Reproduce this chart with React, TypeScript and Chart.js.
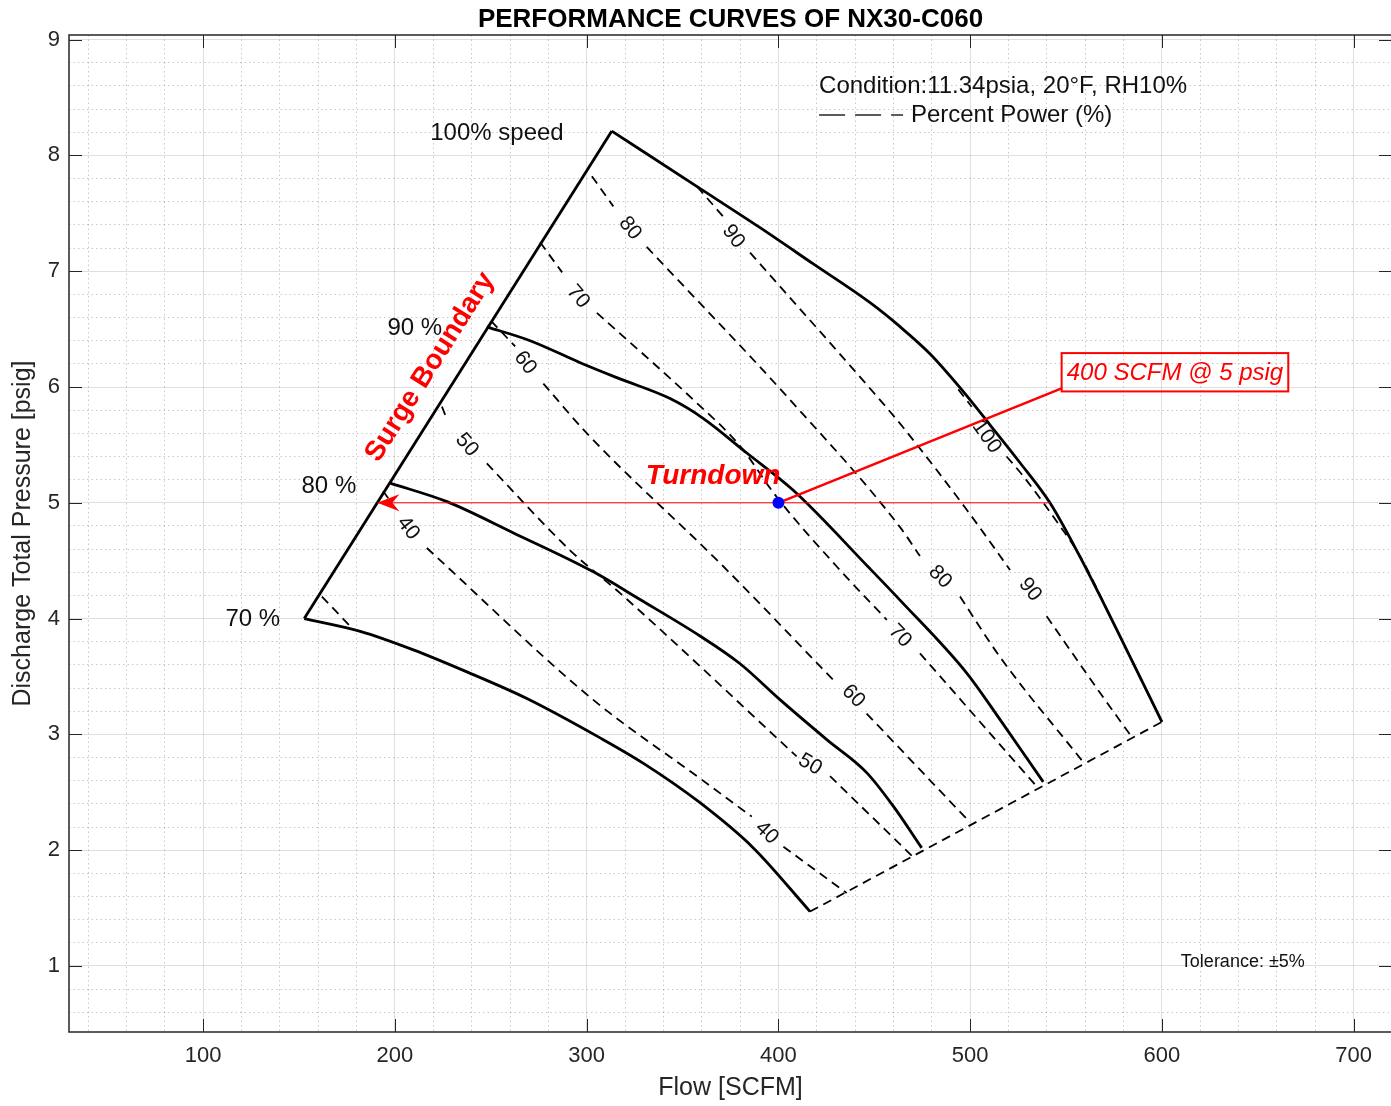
import React, { useEffect, useRef } from "react";
import { Chart, registerables } from "chart.js";

Chart.register(...registerables);

const FONT = '"Liberation Sans", Arial, Helvetica, sans-serif';
const AXIS_COLOR = "#262626";
const TEXT_COLOR = "#111111";
const RED = "#ff0000";

// ---- axes ----
const titleText = "PERFORMANCE CURVES OF NX30-C060";
const xTitle = "Flow [SCFM]";
const yTitle = "Discharge Total Pressure [psig]";
const flowLimits = [30, 720];
const pressureLimits = [0.43, 9.04];
const flowTicks = [100, 200, 300, 400, 500, 600, 700];
const pressureTicks = [1, 2, 3, 4, 5, 6, 7, 8, 9];
const flowMinorStep = 20;
const pressureMinorStep = 0.2;

// ---- speed curves [flow, pressure] ----
const surgeLine = [[152.7, 4.0], [313.1, 8.21]];
const speed100 = [[313.1, 8.21], [357.6, 7.73], [390.4, 7.376], [418.0, 7.065], [447.8, 6.728], [463.4, 6.521], [479.0, 6.287], [494.7, 5.994], [510.3, 5.674], [526.0, 5.346], [541.6, 5.0], [557.3, 4.533], [576.5, 3.903], [600.0, 3.108]];
const speed90 = [[247.9, 6.52], [270.5, 6.4], [296.6, 6.21], [317.4, 6.07], [343.5, 5.9], [360.7, 5.73], [383.5, 5.43], [407.6, 5.11], [447.8, 4.43], [463.4, 4.16], [498.2, 3.53], [515.5, 3.13], [538.1, 2.59]];
const speed80 = [[197.5, 5.17], [227.1, 5.01], [261.8, 4.74], [303.5, 4.404], [327.8, 4.165], [359.1, 3.85], [380.0, 3.61], [400.8, 3.3], [425.2, 2.955], [446.0, 2.67], [459.9, 2.38], [474.7, 2.02]];
const speed70 = [[152.7, 4.0], [181.9, 3.89], [209.6, 3.73], [237.5, 3.54], [268.8, 3.31], [307.0, 2.97], [329.6, 2.75], [359.1, 2.41], [386.9, 2.02], [416.5, 1.47]];
const chokeLine = [[416.5, 1.47], [600.0, 3.108]];

// ---- percent power lines (segments split where labels sit) ----
const power30 = [[[161.9, 4.19], [177.5, 3.92]]];
const power40 = [
  [[193.9, 5.1], [196.5, 5.04]],
  [[216.6, 4.61], [303.3, 3.3], [359.1, 2.62], [386.1, 2.29]],
  [[402.6, 2.03], [435.6, 1.63]],
];
const power40Labels = [[206.9, 4.78], [393.9, 2.15]];
const power50 = [
  [[224.5, 5.83], [226.2, 5.76]],
  [[247.9, 5.34], [291.3, 4.59], [317.4, 4.22], [409.5, 2.81]],
  [[426.9, 2.64], [470.3, 1.94]],
];
const power50Labels = [[237.5, 5.5], [416.5, 2.74]];
const power60 = [
  [[250.2, 6.57], [262.7, 6.35]],
  [[277.4, 6.03], [300.1, 5.6], [371.3, 4.45], [428.6, 3.47]],
  [[446.0, 3.18], [499.9, 2.24]],
];
const power60Labels = [[267.9, 6.21], [439.1, 3.33]];
const power70 = [
  [[275.7, 7.25], [287.2, 6.99]],
  [[305.3, 6.64], [355.6, 5.89], [380.0, 5.49], [399.1, 5.05], [430.4, 4.45], [456.5, 3.99]],
  [[473.8, 3.7], [534.7, 2.55]],
];
const power70Labels = [[295.5, 6.78], [463.4, 3.85]];
const power80 = [
  [[302.7, 7.82], [313.9, 7.56]],
  [[331.3, 7.21], [406.0, 5.89], [463.4, 4.79], [473.8, 4.54]],
  [[494.7, 4.19], [515.5, 3.67], [559.0, 2.76]],
];
const power80Labels = [[322.6, 7.37], [484.3, 4.36]];
const power90 = [
  [[357.6, 7.73], [371.3, 7.47]],
  [[385.2, 7.16], [451.3, 5.92], [465.1, 5.65], [498.2, 4.94], [520.8, 4.42]],
  [[539.9, 4.02], [567.7, 3.36], [583.3, 3.0]],
];
const power90Labels = [[376.5, 7.3], [531.2, 4.25]];
const power100 = [
  [[493.8, 5.98], [500.8, 5.83]],
  [[519.0, 5.4], [527.7, 5.23], [546.8, 4.8], [557.3, 4.54], [576.5, 3.9], [600.0, 3.108]],
];
const power100Labels = [[508.6, 5.57]];

const powerLines = [
  { text: "40", segments: power40, labels: power40Labels },
  { text: "50", segments: power50, labels: power50Labels },
  { text: "60", segments: power60, labels: power60Labels },
  { text: "70", segments: power70, labels: power70Labels },
  { text: "80", segments: power80, labels: power80Labels },
  { text: "90", segments: power90, labels: power90Labels },
  { text: "100", segments: power100, labels: power100Labels },
];

// ---- annotations ----
const operatingPoint = [[400, 5]];
const turndownLine = [[190.8, 5], [541.6, 5]];
const calloutLine = [[400, 5], [548.0, 5.99]];
const calloutBox = [[547.7, 6.293], [665.9, 5.962]];
const calloutText = "400 SCFM @ 5 psig";
const speedLabels = [
  { text: "100% speed", x: 218.4, y: 8.19, align: "left" },
  { text: "90 %", x: 224.6, y: 6.51, align: "right" },
  { text: "80 %", x: 179.8, y: 5.145, align: "right" },
  { text: "70 %", x: 140.1, y: 3.99, align: "right" },
];
const conditionText = { text: "Condition:11.34psia, 20°F, RH10%", x: 421.2, y: 8.6 };
const legendEntry = { text: "Percent Power (%)", x0: 421.2, x1: 465.0, xt: 469.1, y: 8.35 };
const toleranceText = { text: "Tolerance: ±5%", x: 642.2, y: 1.035 };
const surgeText = { text: "Surge Boundary", x: 218.35, y: 6.172 };
const turndownText = { text: "Turndown", x: 365.9, y: 5.225 };

const toXY = (pts: number[][]) => pts.map(([x, y]) => ({ x, y }));

function lineDs(pts: number[][], color: string, width: number, dash: number[] = [], smooth = false) {
  return {
    data: toXY(pts),
    showLine: true,
    borderColor: color,
    backgroundColor: color,
    borderWidth: width,
    borderDash: dash,
    pointRadius: 0,
    pointHoverRadius: 0,
    fill: false,
    tension: smooth ? 0.4 : 0,
    cubicInterpolationMode: smooth ? "monotone" : "default",
    borderJoinStyle: "round",
    borderCapStyle: "butt",
  };
}

const DASH = [9, 6];

const overlayPlugin = {
  id: "overlay",
  afterDatasetsDraw(chart: any) {
    const { ctx, scales } = chart;
    const X = (v: number) => scales.x.getPixelForValue(v);
    const Y = (v: number) => scales.y.getPixelForValue(v);
    ctx.save();

    // power labels
    ctx.font = `21px ${FONT}`;
    ctx.fillStyle = TEXT_COLOR;
    ctx.textAlign = "center";
    ctx.textBaseline = "middle";
    powerLines.forEach(({ text, segments, labels }) => {
      labels.forEach(([lx, ly], i) => {
        const segA = segments[i];
        const a = segA[segA.length - 1];
        const b = segments[i + 1] ? segments[i + 1][0] : a;
        const ang = Math.atan2(Y(b[1]) - Y(a[1]), X(b[0]) - X(a[0]));
        ctx.save();
        ctx.translate(X(lx), Y(ly));
        ctx.rotate(ang);
        ctx.fillText(text, 0, 0);
        ctx.restore();
      });
    });

    // speed labels
    ctx.font = `24px ${FONT}`;
    speedLabels.forEach((l) => {
      ctx.textAlign = l.align;
      ctx.fillText(l.text, X(l.x), Y(l.y));
    });

    // condition + legend
    ctx.textAlign = "left";
    ctx.fillText(conditionText.text, X(conditionText.x), Y(conditionText.y));
    ctx.fillText(legendEntry.text, X(legendEntry.xt), Y(legendEntry.y));
    ctx.save();
    ctx.strokeStyle = AXIS_COLOR;
    ctx.lineWidth = 1.5;
    ctx.setLineDash([26, 10]);
    ctx.beginPath();
    ctx.moveTo(X(legendEntry.x0), Y(legendEntry.y));
    ctx.lineTo(X(legendEntry.x1), Y(legendEntry.y));
    ctx.stroke();
    ctx.restore();

    // tolerance
    ctx.font = `18px ${FONT}`;
    ctx.textAlign = "center";
    ctx.fillText(toleranceText.text, X(toleranceText.x), Y(toleranceText.y));

    // surge boundary
    const sa = Math.atan2(Y(surgeLine[1][1]) - Y(surgeLine[0][1]), X(surgeLine[1][0]) - X(surgeLine[0][0]));
    ctx.fillStyle = RED;
    ctx.font = `bold 28px ${FONT}`;
    ctx.save();
    ctx.translate(X(surgeText.x), Y(surgeText.y));
    ctx.rotate(sa);
    ctx.fillText(surgeText.text, 0, 0);
    ctx.restore();

    // turndown
    ctx.font = `italic bold 28px ${FONT}`;
    ctx.fillText(turndownText.text, X(turndownText.x), Y(turndownText.y));

    // arrow head at turndown end
    const tx = X(turndownLine[0][0]);
    const ty = Y(turndownLine[0][1]);
    ctx.beginPath();
    ctx.moveTo(tx, ty);
    ctx.lineTo(tx + 22, ty - 8.5);
    ctx.lineTo(tx + 15, ty);
    ctx.lineTo(tx + 22, ty + 8.5);
    ctx.closePath();
    ctx.fill();

    // callout box
    const bx0 = X(calloutBox[0][0]);
    const by0 = Y(calloutBox[0][1]);
    const bx1 = X(calloutBox[1][0]);
    const by1 = Y(calloutBox[1][1]);
    ctx.strokeStyle = RED;
    ctx.lineWidth = 2;
    ctx.strokeRect(bx0, by0, bx1 - bx0, by1 - by0);
    ctx.font = `italic 24px ${FONT}`;
    ctx.textAlign = "center";
    ctx.fillText(calloutText, (bx0 + bx1) / 2, (by0 + by1) / 2 + 1);

    ctx.restore();
  },
  afterDraw(chart: any) {
    const { ctx, chartArea, scales } = chart;
    const { left, right, top, bottom } = chartArea;
    ctx.save();
    ctx.strokeStyle = AXIS_COLOR;
    ctx.lineWidth = 1;
    const tl = 13;
    ctx.beginPath();
    flowTicks.forEach((v) => {
      const p = Math.round(scales.x.getPixelForValue(v)) + 0.5;
      ctx.moveTo(p, bottom);
      ctx.lineTo(p, bottom - tl);
      ctx.moveTo(p, top);
      ctx.lineTo(p, top + tl);
    });
    pressureTicks.forEach((v) => {
      const p = Math.round(scales.y.getPixelForValue(v)) + 0.5;
      ctx.moveTo(left, p);
      ctx.lineTo(left + tl, p);
      ctx.moveTo(right, p);
      ctx.lineTo(right - tl, p);
    });
    ctx.stroke();
    ctx.lineWidth = 1.5;
    ctx.strokeRect(left, top, right - left, bottom - top);

    ctx.fillStyle = "#000";
    ctx.font = `bold 26px ${FONT}`;
    ctx.textAlign = "center";
    ctx.textBaseline = "alphabetic";
    ctx.fillText(titleText, (left + right) / 2, 27);
    ctx.restore();
  },
};

export default function App() {
  const ref = useRef<HTMLCanvasElement | null>(null);

  useEffect(() => {
    if (!ref.current) return;
    const datasets: any[] = [];
    datasets.push({
      data: toXY(operatingPoint),
      showLine: false,
      pointRadius: 6,
      pointHoverRadius: 6,
      pointBackgroundColor: "#0000ff",
      pointBorderColor: "#0000ff",
      borderWidth: 0,
    });
    datasets.push(lineDs(calloutLine, RED, 2.5));
    datasets.push(lineDs(turndownLine, RED, 1));
    datasets.push(lineDs(surgeLine, "#000", 2.8));
    [speed100, speed90, speed80, speed70].forEach((c) => datasets.push(lineDs(c, "#000", 2.8, [], true)));
    datasets.push(lineDs(chokeLine, "#000", 1.8, DASH));
    power30.forEach((s) => datasets.push(lineDs(s, "#000", 1.8, DASH)));
    powerLines.forEach((pl) => pl.segments.forEach((s) => datasets.push(lineDs(s, "#000", 1.8, DASH, s.length > 2))));

    const setMajor = (vals: number[]) => (scale: any) => {
      scale.ticks = vals.map((v) => ({ value: v }));
    };
    const zeroPad = (scale: any) => {
      scale.paddingTop = 0;
      scale.paddingBottom = 0;
      scale.paddingLeft = 0;
      scale.paddingRight = 0;
    };

    const chart = new Chart(ref.current, {
      type: "scatter",
      data: { datasets },
      options: {
        responsive: false,
        animation: false,
        devicePixelRatio: 1,
        events: [],
        layout: { padding: { top: 35, right: 8, bottom: 0, left: 0 } },
        plugins: { legend: { display: false }, tooltip: { enabled: false }, title: { display: false } },
        scales: {
          x: {
            type: "linear",
            position: "bottom",
            min: flowLimits[0],
            max: flowLimits[1],
            afterBuildTicks: setMajor(flowTicks),
            afterFit: (s: any) => {
              s.height = 74;
              zeroPad(s);
            },
            grid: { color: "rgba(38,38,38,0.15)", lineWidth: 1, drawTicks: false },
            border: { display: false },
            ticks: { color: AXIS_COLOR, font: { family: FONT, size: 22 }, padding: 11, maxRotation: 0, autoSkip: false },
            title: { display: true, text: xTitle, color: AXIS_COLOR, font: { family: FONT, size: 25 }, padding: { top: 0, bottom: 3 } },
          },
          y: {
            type: "linear",
            position: "left",
            min: pressureLimits[0],
            max: pressureLimits[1],
            afterBuildTicks: setMajor(pressureTicks),
            afterFit: (s: any) => {
              s.width = 69;
              zeroPad(s);
            },
            grid: { color: "rgba(38,38,38,0.15)", lineWidth: 1, drawTicks: false },
            border: { display: false },
            ticks: { color: AXIS_COLOR, font: { family: FONT, size: 22 }, padding: 9, autoSkip: false },
            title: { display: true, text: yTitle, color: AXIS_COLOR, font: { family: FONT, size: 25 }, padding: { top: 8, bottom: 0 } },
          },
          xMinor: {
            type: "linear",
            axis: "x",
            position: "bottom",
            min: flowLimits[0],
            max: flowLimits[1],
            afterFit: (s: any) => {
              s.height = 0;
              zeroPad(s);
            },
            ticks: { display: false, stepSize: flowMinorStep, includeBounds: false },
            grid: {
              drawTicks: false,
              lineWidth: 1,
              color: (c: any) => (c.tick && Math.abs(c.tick.value % 100) < 1e-6 ? "rgba(0,0,0,0)" : "rgba(38,38,38,0.25)"),
            },
            border: { display: false, dash: [1.5, 3] },
          },
          yMinor: {
            type: "linear",
            axis: "y",
            position: "left",
            min: pressureLimits[0],
            max: pressureLimits[1],
            afterFit: (s: any) => {
              s.width = 0;
              zeroPad(s);
            },
            ticks: { display: false, stepSize: pressureMinorStep, includeBounds: false },
            grid: {
              drawTicks: false,
              lineWidth: 1,
              color: (c: any) => {
                const v = c.tick ? c.tick.value : 0;
                return Math.abs(v - Math.round(v)) < 1e-6 ? "rgba(0,0,0,0)" : "rgba(38,38,38,0.25)";
              },
            },
            border: { display: false, dash: [1.5, 3] },
          },
        },
      },
      plugins: [overlayPlugin],
    } as any);

    return () => chart.destroy();
  }, []);

  return (
    <div style={{ position: "absolute", left: 0, top: 0, width: 1391, height: 1106, overflow: "hidden", background: "#fff" }}>
      <canvas ref={ref} width={1400} height={1106} style={{ display: "block" }} />
    </div>
  );
}
